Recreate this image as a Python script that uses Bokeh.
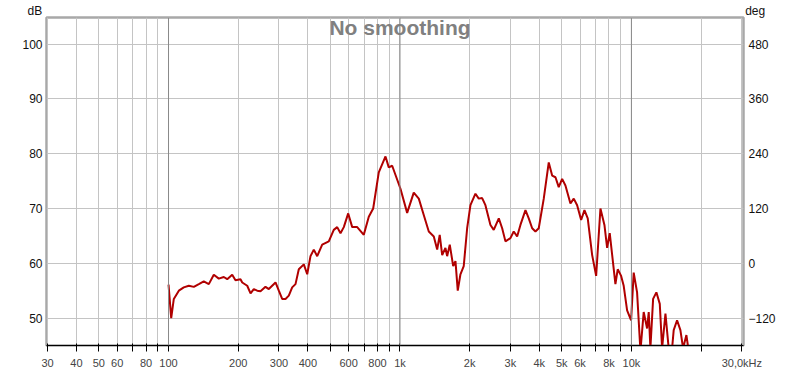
from bokeh.plotting import figure
from bokeh.models import Range1d, LinearAxis, FixedTicker, Label, Span, LinearScale
from bokeh.embed import file_html
from bokeh.resources import INLINE

# ---- data ----
freq_hz = [100, 102.7, 105.4, 110.8, 116.4, 122.4, 128.6, 135.2, 142.0, 149.3,
           156.9, 164.9, 173.3, 179.3, 188.4, 194.7, 204.6, 208.2, 218.8, 226.1,
           233.6, 241.6, 249.7, 262.4, 271.2, 289.9, 299.6, 309.8, 320.2, 330.9,
           342.2, 353.7, 365.5, 384.2, 397.4, 410.6, 424.3, 438.9, 461.3, 492.6,
           517.6, 535.5, 553.4, 571.9, 597.5, 621.8, 653.4, 697.7, 733.3, 766.1,
           809.9, 865.9, 894.6, 925.4, 1005, 1074, 1147, 1206, 1267, 1332,
           1400, 1448, 1485, 1522, 1572, 1599, 1641, 1698, 1737, 1777,
           1825, 1886, 1951, 2016, 2119, 2190, 2265, 2340, 2460, 2542,
           2673, 2764, 2856, 3001, 3101, 3208, 3315, 3485, 3601, 3725,
           3849, 3978, 4181, 4394, 4545, 4697, 4853, 5020, 5187, 5452,
           5635, 5828, 6064, 6267, 6476, 6767, 7041, 7348, 7646, 7853,
           8060, 8529, 8726, 9027, 9261, 9581, 9970, 10230, 10580, 10940,
           11300, 11690, 11880, 12080, 12410, 12820, 13260, 13570, 14030, 14490,
           14990, 15230, 15750, 16280, 16720, 17280, 17680, 18500]
spl_db = [56.1, 50.0, 53.5, 55.0, 55.6, 55.9, 55.7, 56.2, 56.7, 56.2,
          57.9, 57.2, 57.5, 57.1, 57.9, 56.9, 57.1, 56.5, 55.9, 54.5,
          55.3, 55.0, 54.9, 55.7, 55.3, 56.5, 55.0, 53.5, 53.5, 54.1,
          55.6, 56.2, 58.9, 59.8, 58.0, 61.3, 62.5, 61.3, 63.4, 64.0,
          66.1, 66.6, 65.5, 66.6, 69.1, 66.6, 66.6, 65.2, 68.5, 70.0,
          76.6, 79.5, 77.5, 77.8, 73.6, 69.2, 72.9, 71.8, 68.8, 65.8,
          64.9, 62.5, 65.2, 61.5, 62.8, 61.3, 63.4, 59.5, 60.4, 55.0,
          58.0, 59.5, 66.4, 70.6, 72.7, 71.8, 71.9, 70.6, 67.0, 66.1,
          68.2, 66.4, 64.0, 64.6, 65.8, 64.9, 67.0, 69.7, 68.2, 66.4,
          65.8, 66.4, 71.8, 78.4, 76.0, 75.7, 73.9, 75.4, 74.2, 70.9,
          71.8, 70.6, 67.9, 69.7, 68.2, 61.5, 57.7, 70.0, 67.0, 62.8,
          65.5, 56.2, 58.9, 57.7, 55.9, 51.4, 49.6, 58.3, 54.7, 44.0,
          51.1, 48.1, 51.1, 44.5, 53.5, 54.7, 52.6, 44.5, 50.8, 44.5,
          44.5, 47.8, 49.6, 47.8, 44.5, 46.9, 44.0, 42.0]

x_grid_ticks = [30, 40, 50, 60, 70, 80, 90,
                100, 200, 300, 400, 500, 600, 700, 800, 900,
                1000, 2000, 3000, 4000, 5000, 6000, 7000, 8000, 9000,
                10000, 20000, 30000]
x_tick_labels = {30: "30", 40: "40", 50: "50", 60: "60", 70: "", 80: "80", 90: "",
                 100: "100", 200: "200", 300: "300", 400: "400", 500: "", 600: "600",
                 700: "", 800: "800", 900: "", 1000: "1k", 2000: "2k", 3000: "3k",
                 4000: "4k", 5000: "5k", 6000: "6k", 7000: "", 8000: "8k", 9000: "",
                 10000: "10k", 20000: "", 30000: "30,0kHz"}
decades = [100, 1000, 10000]
db_ticks = [50, 60, 70, 80, 90, 100]
deg_ticks = [-120, 0, 120, 240, 360, 480]
left_unit = "dB"
right_unit = "deg"

FONT = "Liberation Sans"
NB = "\u00a0" * 7

p = figure(width=800, height=371, x_axis_type="log",
           x_range=Range1d(29.7, 30500), y_range=Range1d(45, 104.85),
           output_backend="svg", toolbar_location=None,
           min_border_left=46, min_border_right=57, min_border_top=14,
           min_border_bottom=22)
p.background_fill_color = "white"
p.border_fill_color = "white"
p.outline_line_color = "#a8a8a8"
p.outline_line_width = 2.5

p.extra_y_ranges = {"deg": Range1d(-180, 538.2)}
p.extra_x_ranges = {"units": Range1d(0, 1)}
p.extra_x_scales = {"units": LinearScale()}

# x axis
p.xaxis.ticker = FixedTicker(ticks=x_grid_ticks, minor_ticks=[])
p.xaxis.major_label_overrides = x_tick_labels
p.xgrid.ticker = FixedTicker(ticks=x_grid_ticks, minor_ticks=[])
# y axis
p.yaxis.ticker = FixedTicker(ticks=db_ticks, minor_ticks=[])
p.ygrid.ticker = FixedTicker(ticks=db_ticks, minor_ticks=[])

deg_axis = LinearAxis(y_range_name="deg",
                      ticker=FixedTicker(ticks=deg_ticks, minor_ticks=[]))
p.add_layout(deg_axis, "right")

# unit captions above the frame corners
unit_axis = LinearAxis(x_range_name="units",
                       ticker=FixedTicker(ticks=[0, 1], minor_ticks=[]))
unit_axis.major_label_overrides = {0: left_unit + NB, 1: NB + right_unit}
p.add_layout(unit_axis, "above")

for ax in [p.xaxis[0], p.yaxis[0], deg_axis, unit_axis]:
    ax.axis_line_color = None
    ax.major_tick_line_color = None
    ax.minor_tick_line_color = None
    ax.major_tick_out = 0
    ax.major_tick_in = 0
    ax.minor_tick_out = 0
    ax.minor_tick_in = 0
    ax.major_label_text_font = FONT
    ax.major_label_text_font_size = "12px"
    ax.major_label_text_color = "#111111"
p.xaxis[0].major_label_standoff = 6
p.yaxis[0].major_label_standoff = 4
deg_axis.major_label_standoff = 5
unit_axis.major_label_standoff = 0

for g in [p.xgrid[0], p.ygrid[0]]:
    g.grid_line_color = "#c4c4c4"
    g.grid_line_width = 1

for d in decades:
    p.add_layout(Span(location=d, dimension="height", line_color="#8a8a8a", line_width=1))

p.line(freq_hz, spl_db, line_color="#b00000", line_width=2)

p.add_layout(Label(x=1000, y=103.1, text="No smoothing", text_align="center",
                   text_baseline="middle", text_font=FONT, text_font_size="21px",
                   text_font_style="bold", text_color="#808080"))

open("out.html", "w").write(file_html(p, INLINE))
